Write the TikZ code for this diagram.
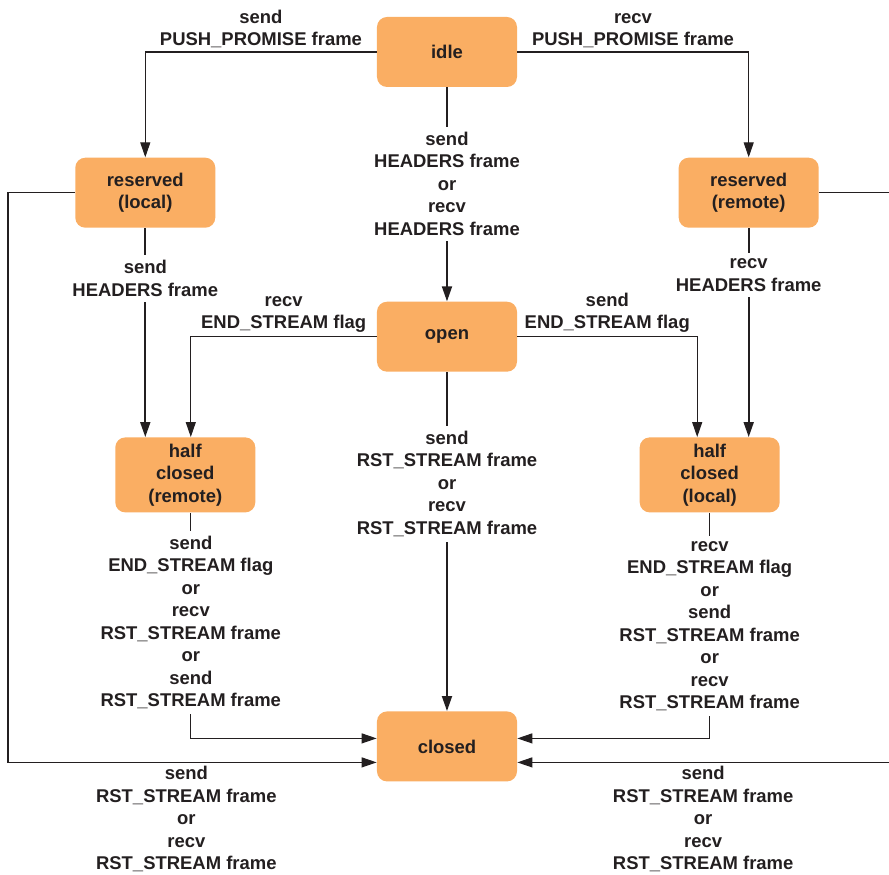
\documentclass[tikz,border=0pt]{standalone}
\usepackage{fontspec}
\setmainfont{Liberation Sans}
\usepackage{tikz}
\usetikzlibrary{arrows.meta,positioning}
\usepackage{xcolor}
\definecolor{STorange}{RGB}{250,174,99}
\definecolor{STink}{RGB}{35,31,32}

\begin{document}
\begin{tikzpicture}[every node/.style={font=\fontsize{10.5}{12.8}\selectfont\bfseries,text=STink}, state/.style={fill=STorange,rounded corners=0.2cm,align=center,minimum width=2.8cm,minimum height=1.4cm}, tall/.style={minimum height=1.5cm}, lbl/.style={align=center,inner sep=2pt}, onlbl/.style={align=center,fill=white,inner sep=3pt}, arr/.style={-{Triangle[length=3mm,width=2mm]},line width=0.6pt,STink}, arrthick/.style={arr,line width=1pt}]
\useasboundingbox (-8.94,1.04) rectangle (8.84,-16.46);
\node[state] (idle) {idle};
\node[state,below=4.28cm of idle] (open) {open};
\node[state,below=6.78cm of open] (closed) {closed};
\node[state,below left=1.4cm and 3.22cm of idle] (resl) {reserved\\(local)};
\node[state,below right=1.4cm and 3.22cm of idle] (resr) {reserved\\(remote)};
\node[state,tall,below left=1.3cm and 2.42cm of open] (hcr) {half\\closed\\(remote)};
\node[state,tall,below right=1.3cm and 2.44cm of open] (hcl) {half\\closed\\(local)};
% loose ends and entry points
\coordinate (lloop) at (-8.78,0);
\coordinate (redge) at (8.84,0);
\coordinate (clup) at ([yshift=0.16cm]closed.west);
\coordinate (clin) at ([yshift=-0.32cm]closed.west);
\coordinate (crup) at ([yshift=0.16cm]closed.east);
\coordinate (crin) at ([yshift=-0.32cm]closed.east);
\draw[arr] (idle.west) -| node[lbl,above,pos=0.25] {send\\PUSH\_PROMISE frame} (resl.north);
\draw[arr] (idle.east) -| node[lbl,above,pos=0.25] {recv\\PUSH\_PROMISE frame} (resr.north);
\draw[arrthick] (idle) -- node[onlbl,pos=0.45] {send\\HEADERS frame\\or\\recv\\HEADERS frame} (open);
\draw[arrthick] (resl.south) -- node[onlbl,pos=0.24] {send\\HEADERS frame} (resl.south |- hcr.north);
\draw[arrthick] (resr.south) -- node[onlbl,pos=0.225] {recv\\HEADERS frame} (resr.south |- hcl.north);
\draw[arr] (open.west) -| node[lbl,above,pos=0.25] {recv\\END\_STREAM flag} ([xshift=0.11cm]hcr.north);
\draw[arr] (open.east) -| node[lbl,above,pos=0.25] {send\\END\_STREAM flag} ([xshift=-0.25cm]hcl.north);
\draw[arrthick] (open) -- node[onlbl,pos=0.33] {send\\RST\_STREAM frame\\or\\recv\\RST\_STREAM frame} (closed);
\draw[arr] ([xshift=0.11cm]hcr.south) |- node[onlbl,pos=0.243] {send\\END\_STREAM flag\\or\\recv\\RST\_STREAM frame\\or\\send\\RST\_STREAM frame} (clup);
\draw[arr] (hcl.south) |- node[onlbl,pos=0.251] {recv\\END\_STREAM flag\\or\\send\\RST\_STREAM frame\\or\\recv\\RST\_STREAM frame} (crup);
\draw[arr] (resl.west) -- (resl.west -| lloop) |- node[lbl,below,pos=0.75,xshift=-0.12cm] {send\\RST\_STREAM frame\\or\\recv\\RST\_STREAM frame} (clin);
\draw[arr,-] (resr.east) -- (resr.east -| redge);
\draw[arr] (redge |- crin) -- node[lbl,below] {send\\RST\_STREAM frame\\or\\recv\\RST\_STREAM frame} (crin);
\end{tikzpicture}
\end{document}
